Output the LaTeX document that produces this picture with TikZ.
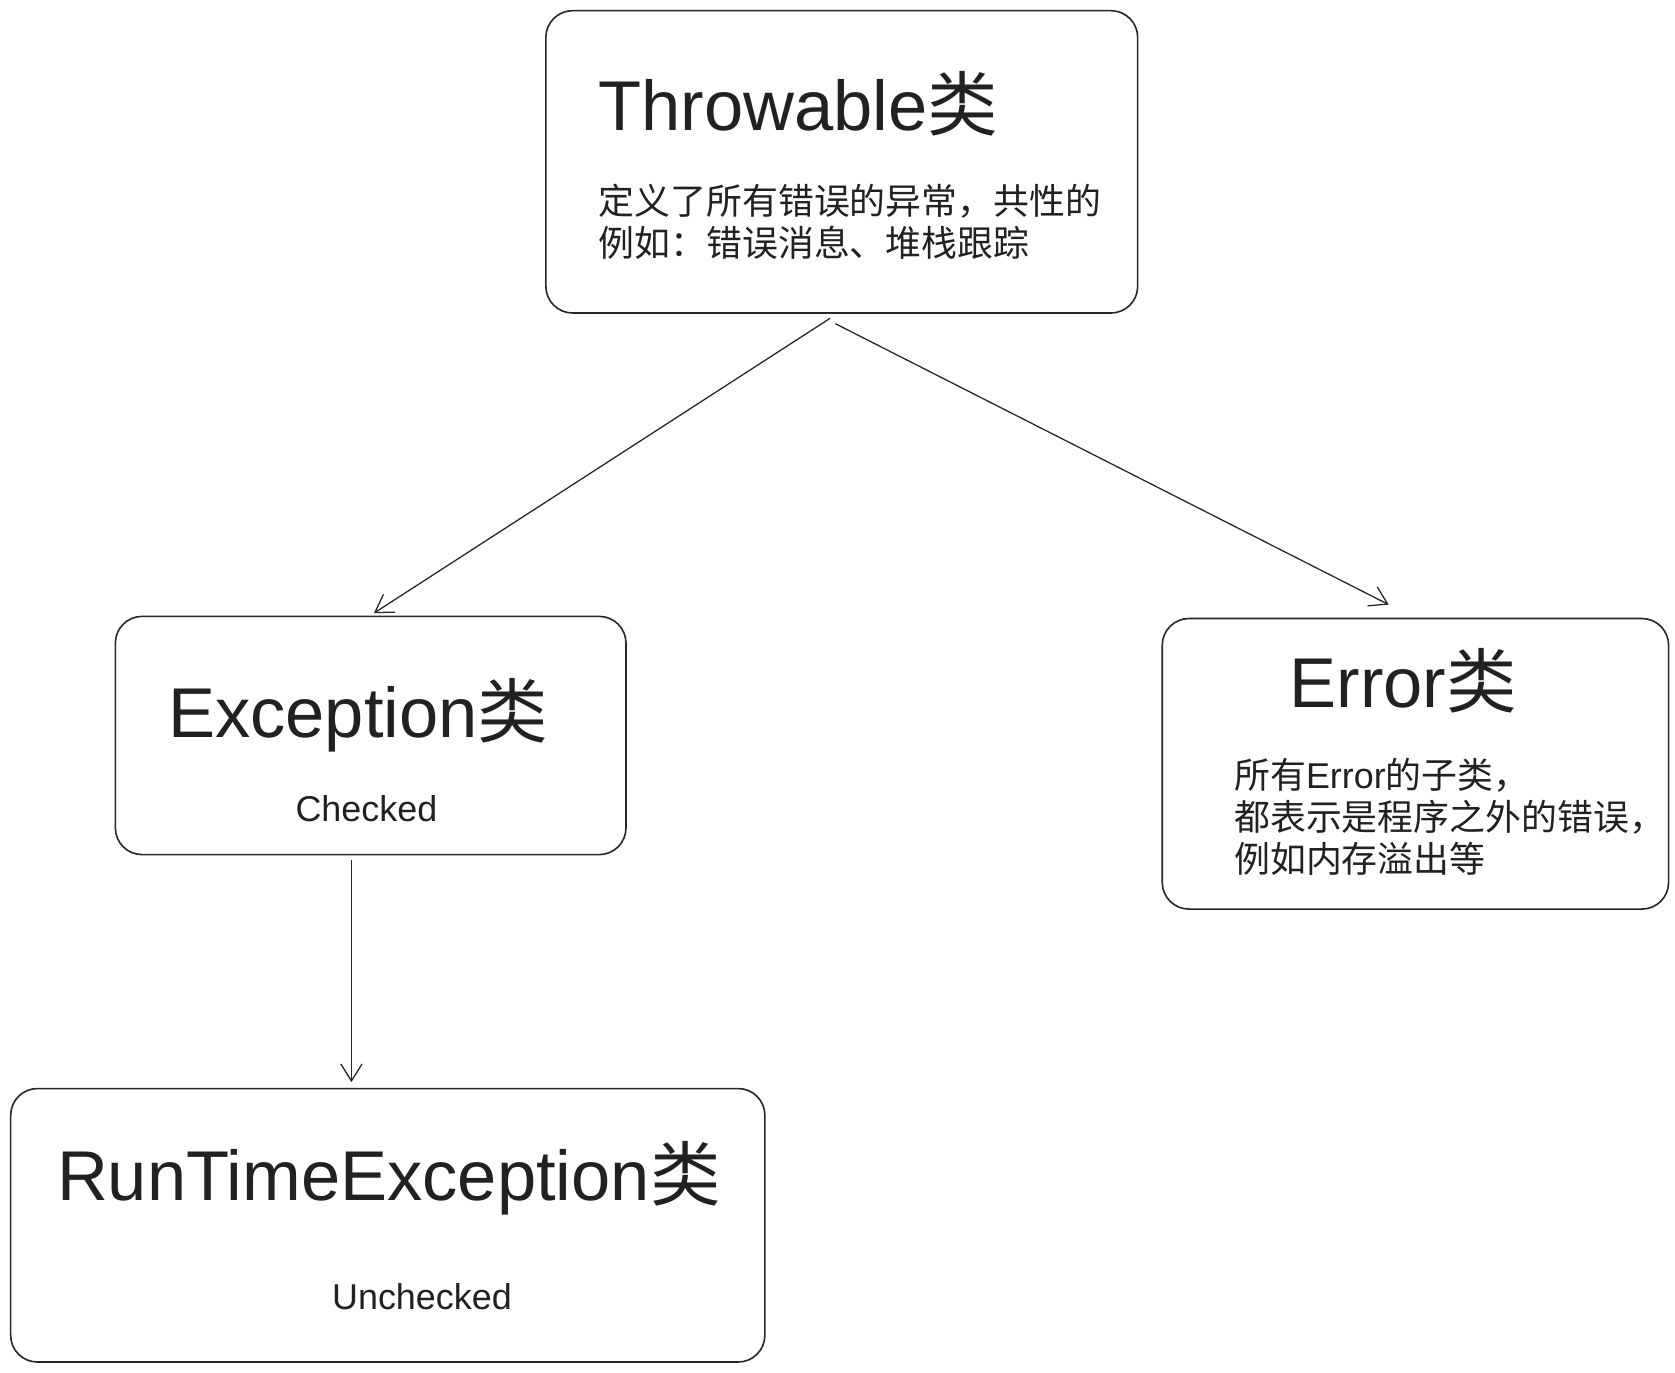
\documentclass[tikz,border=0pt]{standalone}
\usepackage{fontspec}
\setmainfont{Liberation Sans}
\newfontfamily\cjk{Noto Sans CJK SC}
\usetikzlibrary{arrows.meta}

\begin{document}
\begin{tikzpicture}[
  x=0.5pt, y=-0.5pt,
  classbox/.style={draw=black!85, line width=0.75pt, rounded corners=12.5pt, inner sep=0pt, outer sep=0pt},
  title/.style={anchor=base west, inner sep=0pt, text=black!87, font=\fontsize{33}{39}\selectfont},
  note/.style={anchor=base west, inner sep=0pt, align=left, text=black!87, font=\fontsize{16.8}{19.8}\selectfont},
  link/.style={draw=black!85, line width=0.6pt, -{Straight Barb[length=8pt,width=10pt,line width=0.6pt]}},
]
\useasboundingbox (0,0) rectangle (1568,1285);
\node[classbox, minimum width=277pt, minimum height=141.5pt] (thr) at (788,151.5) {};
\node[classbox, minimum width=239pt, minimum height=111.5pt] (exc) at (347,688.5) {};
\node[classbox, minimum width=237pt, minimum height=136pt] (err) at (1325,715) {};
\node[classbox, minimum width=353pt, minimum height=128pt] (rte) at (363,1147) {};
\node[title] (thrtitle) at (560,122) {Throwable{\cjk 类}};
\node[note] (thrnote) at (560,240) {\cjk 定义了所有错误的异常，共性的\\\cjk 例如：错误消息、堆栈跟踪};
\node[title] (exctitle) at (157,690) {Exception{\cjk 类}};
\node[note, anchor=base] (excnote) at (343,769) {Checked};
\node[title] (errtitle) at (1207,662) {Error{\cjk 类}};
\node[note] (errnote) at (1155,817) {{\cjk 所有}Error{\cjk 的子类，}\\\cjk 都表示是程序之外的错误，\\\cjk 例如内存溢出等};
\node[title] (rtetitle) at (53,1124) {RunTimeException{\cjk 类}};
\node[note, anchor=base] (rtenote) at (395,1226) {Unchecked};
\draw[link] ([xshift=-5.5pt,yshift=-2.5pt]thr.south) -- ([xshift=1.5pt,yshift=1.5pt]exc.north);
\draw[link] ([xshift=-3pt,yshift=-5pt]thr.south) -- ([xshift=-12.5pt,yshift=6.5pt]err.north);
\draw[link] ([xshift=-9pt,yshift=-2.5pt]exc.south) -- ([xshift=-17pt,yshift=3pt]rte.north);
\end{tikzpicture}
\end{document}
